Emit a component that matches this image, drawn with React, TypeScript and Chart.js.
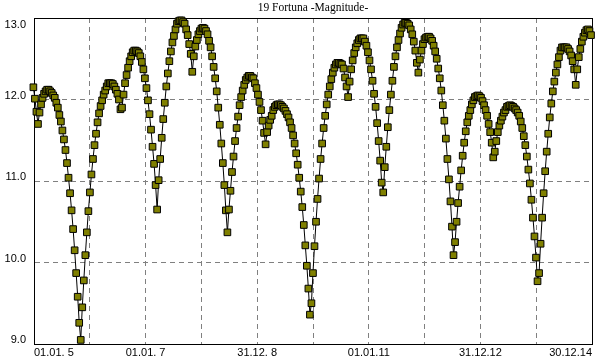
import React, { useEffect, useRef } from "react";
import { Chart, registerables } from "chart.js";

Chart.register(...registerables);

const TITLE = "19 Fortuna -Magnitude-";

// Time axis: days counted from 01.01.2005, one estimate every 10 days
const FIRST_DAY = -4;
const STEP_DAYS = 10;

const MAGNITUDES = [
  12.15, 12.01, 11.85, 11.70, 11.84, 11.94, 12.02, 12.07, 12.10, 12.12, 12.12, 12.10, 12.08, 12.05, 12.02, 11.96, 11.90, 11.81, 11.73, 11.62,
  11.51, 11.38, 11.22, 11.04, 10.85, 10.64, 10.41, 10.15, 9.87, 9.58, 9.26, 9.05, 9.45, 9.78, 10.09, 10.37, 10.63, 10.86, 11.08, 11.27,
  11.44, 11.58, 11.72, 11.83, 11.92, 11.99, 12.06, 12.11, 12.16, 12.20, 12.20, 12.20, 12.19, 12.16, 12.12, 12.07, 12.00, 11.88, 11.90, 12.06,
  12.20, 12.30, 12.39, 12.47, 12.53, 12.58, 12.60, 12.60, 12.59, 12.57, 12.53, 12.46, 12.37, 12.26, 12.14, 11.99, 11.82, 11.63, 11.42, 11.21,
  10.95, 10.65, 11.01, 11.27, 11.53, 11.76, 11.96, 12.16, 12.32, 12.47, 12.59, 12.70, 12.78, 12.86, 12.93, 12.96, 12.97, 12.97, 12.95, 12.93,
  12.86, 12.79, 12.68, 12.56, 12.34, 12.53, 12.65, 12.73, 12.80, 12.84, 12.87, 12.88, 12.87, 12.84, 12.80, 12.72, 12.64, 12.53, 12.40, 12.26,
  12.10, 11.90, 11.69, 11.46, 11.22, 10.95, 10.64, 10.37, 10.65, 10.88, 11.11, 11.30, 11.49, 11.65, 11.79, 11.93, 12.03, 12.11, 12.18, 12.24,
  12.27, 12.29, 12.29, 12.27, 12.26, 12.20, 12.14, 12.06, 11.97, 11.87, 11.74, 11.59, 11.45, 11.60, 11.68, 11.75, 11.80, 11.87, 11.91, 11.93,
  11.94, 11.94, 11.93, 11.91, 11.89, 11.86, 11.82, 11.78, 11.72, 11.65, 11.56, 11.46, 11.34, 11.20, 11.04, 10.87, 10.68, 10.46, 10.21, 9.96,
  9.68, 9.36, 9.50, 9.87, 10.20, 10.50, 10.78, 11.03, 11.27, 11.46, 11.65, 11.80, 11.94, 12.06, 12.16, 12.25, 12.33, 12.39, 12.43, 12.45,
  12.45, 12.44, 12.43, 12.38, 12.27, 12.16, 12.03, 12.22, 12.37, 12.48, 12.57, 12.64, 12.69, 12.73, 12.75, 12.75, 12.75, 12.71, 12.66, 12.58,
  12.48, 12.37, 12.23, 12.07, 11.91, 11.71, 11.49, 11.25, 10.98, 10.86, 11.17, 11.42, 11.66, 11.87, 12.06, 12.23, 12.40, 12.53, 12.64, 12.73,
  12.81, 12.88, 12.92, 12.94, 12.94, 12.93, 12.91, 12.86, 12.80, 12.71, 12.60, 12.45, 12.33, 12.49, 12.60, 12.68, 12.74, 12.76, 12.77, 12.77,
  12.75, 12.72, 12.66, 12.59, 12.50, 12.38, 12.26, 12.11, 11.93, 11.74, 11.52, 11.27, 11.02, 10.75, 10.44, 10.09, 10.25, 10.50, 10.73, 10.93,
  11.13, 11.31, 11.47, 11.61, 11.72, 11.80, 11.87, 11.94, 11.99, 12.03, 12.04, 12.05, 12.04, 12.02, 11.98, 11.93, 11.87, 11.80, 11.70, 11.60,
  11.47, 11.29, 11.36, 11.49, 11.60, 11.68, 11.74, 11.79, 11.84, 11.87, 11.91, 11.92, 11.93, 11.92, 11.91, 11.89, 11.87, 11.84, 11.80, 11.73,
  11.65, 11.55, 11.44, 11.30, 11.14, 10.97, 10.77, 10.55, 10.32, 10.06, 9.77, 9.87, 10.23, 10.55, 10.85, 11.12, 11.36, 11.58, 11.78, 11.95,
  12.10, 12.22, 12.33, 12.43, 12.52, 12.60, 12.64, 12.64, 12.64, 12.64, 12.62, 12.59, 12.54, 12.47, 12.37, 12.18, 12.37, 12.52, 12.62, 12.71,
  12.77, 12.82, 12.85, 12.86, 12.84, 12.79,
];

// x grid every year (days), labels every second year
const X_MIN = 0;
const X_MAX = 3652.5;
const X_GRID_DAYS = [0, 365.25, 730.5, 1095.75, 1461, 1826.25, 2191.5, 2556.75, 2922, 3287.25, 3652.5];
const X_TICK_LABELS = ["01.01. 5", "", "01.01. 7", "", "31.12. 8", "", "01.01.11", "", "31.12.12", "", "30.12.14"];

const Y_MIN = 9;
const Y_MAX = 13;
const Y_TICKS = [9, 10, 11, 12, 13];
const Y_TICK_LABELS = ["9.0", "10.0", "11.0", "12.0", "13.0"];

const SANS = '"Liberation Sans", Arial, sans-serif';
const SERIF = '"Liberation Serif", "Times New Roman", serif';

const framePlugin = {
  id: "frameAndYLabels",
  beforeDatasetsDraw(chart: any) {
    const { ctx, chartArea } = chart;
    ctx.save();
    ctx.strokeStyle = "#000";
    ctx.lineWidth = 1;
    ctx.setLineDash([]);
    ctx.strokeRect(
      chartArea.left + 0.5,
      chartArea.top + 0.5,
      chartArea.right - chartArea.left,
      chartArea.bottom - chartArea.top
    );
    ctx.restore();
  },
  afterDraw(chart: any) {
    const { ctx, chartArea } = chart;
    const yScale = chart.scales.y;
    ctx.save();
    ctx.font = `11px ${SANS}`;
    ctx.fillStyle = "#000";
    ctx.textAlign = "right";
    ctx.textBaseline = "middle";
    Y_TICKS.forEach((v, k) => {
      const py = yScale.getPixelForValue(v);
      const yy = v === Y_MAX ? py + 7 : py - 4;
      ctx.fillText(Y_TICK_LABELS[k], chartArea.left - 8, yy);
    });
    ctx.restore();
  },
};

export default function App() {
  const canvasRef = useRef<HTMLCanvasElement | null>(null);

  useEffect(() => {
    if (!canvasRef.current) return;
    const points = MAGNITUDES.map((m, i) => ({ x: FIRST_DAY + i * STEP_DAYS, y: m }));
    const chart = new Chart(canvasRef.current, {
      type: "line",
      data: {
        datasets: [
          {
            data: points,
            borderColor: "#000",
            borderWidth: 1,
            tension: 0,
            pointStyle: "rect",
            pointRadius: 4.7,
            pointBackgroundColor: "#808000",
            pointBorderColor: "#000",
            pointBorderWidth: 1,
            clip: false,
          } as any,
        ],
      },
      options: {
        animation: false,
        responsive: false,
        devicePixelRatio: 1,
        layout: { padding: { top: 0, right: 8, bottom: 0, left: 0 } },
        plugins: {
          legend: { display: false },
          tooltip: { enabled: false },
          title: {
            display: true,
            text: TITLE,
            fullSize: false,
            color: "#000",
            font: { family: SERIF, size: 11.5, weight: "normal", lineHeight: "14px" } as any,
            padding: { top: 1, bottom: 3 },
          },
        },
        scales: {
          x: {
            type: "linear",
            min: X_MIN,
            max: X_MAX,
            afterBuildTicks: (scale: any) => {
              scale.ticks = X_GRID_DAYS.map((value) => ({ value }));
            },
            afterFit: (scale: any) => {
              scale.height = 16;
            },
            ticks: {
              autoSkip: false,
              maxRotation: 0,
              minRotation: 0,
              align: "inner",
              padding: 2,
              color: "#000",
              font: { family: SANS, size: 11 },
              callback: (_v: any, i: number) => X_TICK_LABELS[i],
            },
            grid: { color: "#808080", lineWidth: 1, drawTicks: false },
            border: { display: true, color: "#000", width: 1, dash: [5, 4] },
          } as any,
          y: {
            type: "linear",
            min: Y_MIN,
            max: Y_MAX,
            afterBuildTicks: (scale: any) => {
              scale.ticks = Y_TICKS.map((value) => ({ value }));
            },
            afterFit: (scale: any) => {
              scale.width = 34;
            },
            ticks: { display: false },
            grid: { color: "#808080", lineWidth: 1, drawTicks: false },
            border: { display: true, color: "#000", width: 1, dash: [5, 4] },
          } as any,
        },
      },
      plugins: [framePlugin],
    });
    return () => chart.destroy();
  }, []);

  return (
    <div style={{ position: "fixed", left: 0, top: 0, width: 600, height: 360, background: "#fff" }}>
      <canvas ref={canvasRef} width={600} height={360} style={{ display: "block" }} />
    </div>
  );
}
